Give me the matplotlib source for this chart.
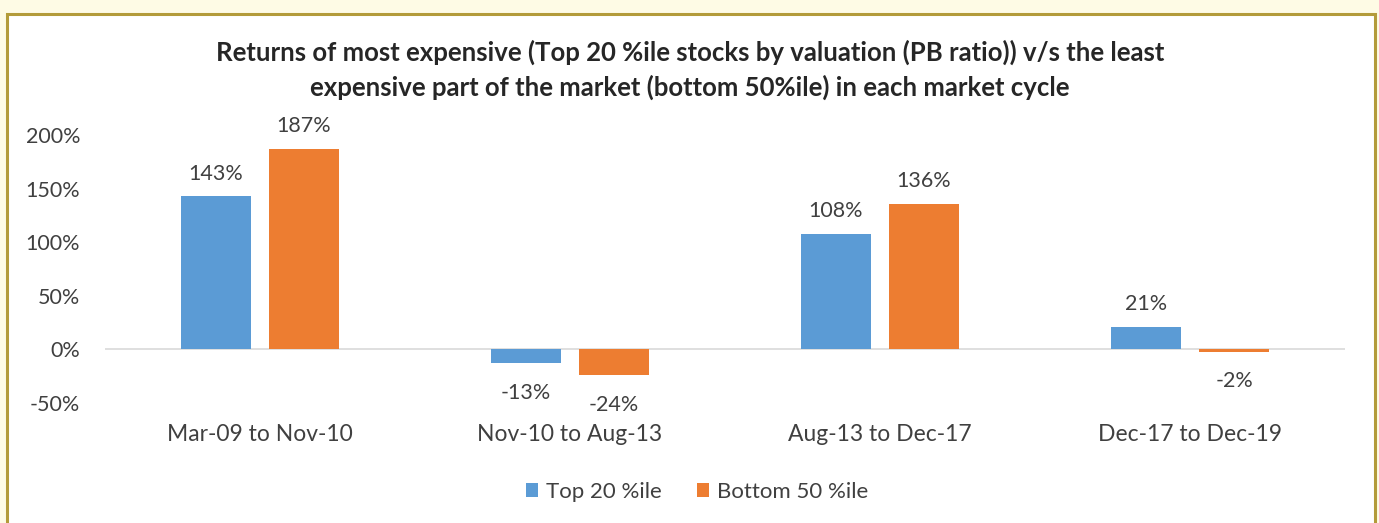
import matplotlib
matplotlib.use("Agg")
import matplotlib.pyplot as plt
from matplotlib.patches import Rectangle
import numpy as np

categories = ["Mar-09 to Nov-10", "Nov-10 to Aug-13", "Aug-13 to Dec-17", "Dec-17 to Dec-19"]
top20 = [143, -13, 108, 21]
bottom50 = [187, -24, 136, -2]
series_names = ["Top 20 %ile", "Bottom 50 %ile"]
yticks = [-50, 0, 50, 100, 150, 200]

plt.rcParams['font.family'] = ['Lato', 'DejaVu Sans']

W, H = 1379, 523
fig = plt.figure(figsize=(W/100, H/100), dpi=100)
fig.patch.set_facecolor('#FEFBE5')
fig.patches.append(Rectangle((7/W, -0.05), (1375-7)/W, (523-14)/H + 0.05,
                             transform=fig.transFigure, facecolor='white',
                             edgecolor='#B39B3A', linewidth=2.2, zorder=-10))

ax = fig.add_axes([105/W, (523-403)/H, (1345-105)/W, (403-135)/H])
ax.set_facecolor('none')
x = np.arange(len(categories))
bw = 0.226
gap = 0.058
off = (bw + gap) / 2
blue = '#5B9BD5'
orange = '#ED7D31'
b1 = ax.bar(x - off, top20, bw, color=blue, label=series_names[0], zorder=3)
b2 = ax.bar(x + off, bottom50, bw, color=orange, label=series_names[1], zorder=3)

fs = 15.5
for bars, vals in ((b1, top20), (b2, bottom50)):
    for r, v in zip(bars, vals):
        cx = r.get_x() + r.get_width() / 2
        if v >= 0:
            ax.annotate(f"{v}%", (cx, v), xytext=(0, 9), textcoords='offset points',
                        ha='center', va='bottom', fontsize=fs, color='#404040')
        else:
            ax.annotate(f"{v}%", (cx, v), xytext=(0, -14), textcoords='offset points',
                        ha='center', va='top', fontsize=fs, color='#404040')

ax.set_xlim(-0.5, len(categories) - 0.5)
ax.set_ylim(-50, 200)
ax.set_yticks(yticks)
ax.set_yticklabels([f"{t}%" for t in yticks], fontsize=fs, color='#404040')
ax.set_xticks(x)
ax.set_xticklabels(categories, fontsize=16.5, color='#404040')
ax.tick_params(axis='both', length=0)
ax.tick_params(axis='y', pad=18)
ax.tick_params(axis='x', pad=15)
for s in ax.spines.values():
    s.set_visible(False)
ax.axhline(0, color='#D9D9D9', linewidth=1.2, zorder=2)

fig.text(690/W, 1 - 52/H, "Returns of most expensive (Top 20 %ile stocks by valuation (PB ratio)) v/s the least",
         ha='center', va='center', fontsize=18.5, fontweight='bold', color='#262626')
fig.text(690/W, 1 - 87/H, "expensive part of the market (bottom 50%ile) in each market cycle",
         ha='center', va='center', fontsize=18.5, fontweight='bold', color='#262626')

leg = fig.legend(handles=[b1, b2], labels=series_names, loc='center', bbox_to_anchor=(697/W, 1 - 492/H),
                 ncol=2, frameon=False, fontsize=16, handlelength=0.55, handleheight=0.55,
                 handletextpad=0.35, columnspacing=1.6)
for t in leg.get_texts():
    t.set_color('#404040')

fig.savefig("out.png", dpi=100, facecolor=fig.get_facecolor())
